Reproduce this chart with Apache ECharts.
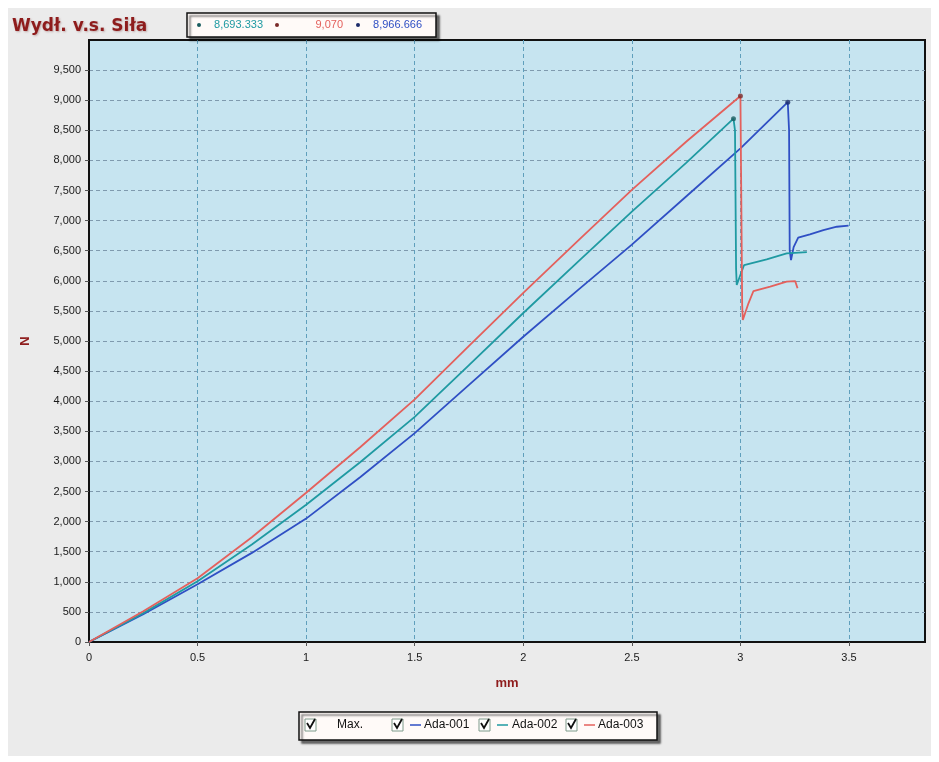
<!DOCTYPE html>
<html>
<head>
<meta charset="utf-8">
<title>Wydł. v.s. Siła</title>
<script src="https://cdn.jsdelivr.net/npm/echarts@6/dist/echarts.min.js"></script>
<style>
  html, body { margin: 0; padding: 0; background: #ffffff; }
  #chart { width: 939px; height: 762px; }
</style>
</head>
<body>
<div id="chart"></div>
<script>
// series data: [mm, N]
var ada001 = [
  [0, 0], [0.25, 460], [0.5, 960], [0.75, 1480], [1, 2050], [1.25, 2740],
  [1.5, 3470], [1.75, 4270], [2, 5070], [2.25, 5840], [2.5, 6600], [2.75, 7400],
  [3, 8200], [3.218, 8966.666], [3.224, 8500], [3.227, 6500], [3.233, 6345],
  [3.245, 6560], [3.266, 6716], [3.32, 6772], [3.382, 6843], [3.444, 6898], [3.498, 6915]
];
var ada002 = [
  [0, 0], [0.25, 480], [0.5, 1010], [0.75, 1620], [1, 2280], [1.25, 2990],
  [1.5, 3740], [1.75, 4600], [2, 5465], [2.25, 6310], [2.5, 7150], [2.75, 7960],
  [2.968, 8693.333], [2.975, 8500], [2.98, 6200], [2.983, 5930], [2.995, 6050],
  [3.017, 6262], [3.121, 6356], [3.213, 6456], [3.306, 6478]
];
var ada003 = [
  [0, 0], [0.25, 510], [0.5, 1060], [0.75, 1740], [1, 2480], [1.25, 3240],
  [1.5, 4030], [1.75, 4920], [2, 5800], [2.25, 6660], [2.5, 7510], [2.75, 8310],
  [3, 9070], [3.008, 5600], [3.011, 5348], [3.037, 5626], [3.06, 5830],
  [3.137, 5902], [3.213, 5985], [3.252, 5996], [3.263, 5875]
];

var seriesNames = ['Ada-001', 'Ada-002', 'Ada-003'];
var seriesColors = ['#2f4fc4', '#1f9aa2', '#e4605c'];
var peakColors = ['#1c2b6a', '#1a5d60', '#7a2a2a'];
var peakX = [3.218, 2.968, 3.0];
var peakValues = [8966.666, 8693.333, 9070];

var xTicks = { min: 0, max: 3.85, interval: 0.5 };
var yTicks = { min: 0, max: 10000, interval: 500 };

function fmt(v) {
  return v.toLocaleString('en-US', { maximumFractionDigits: 3 });
}

var myChart = echarts.init(document.getElementById('chart'));

var labelFont = 'Arial, "Liberation Sans", sans-serif';
var darkRed = '#8e1c1c';

// top box: peaks in the order teal, red, blue
var topOrder = [1, 2, 0];
var topX = [199, 277, 358];
var topValRight = [263, 343, 422];
var topGraphics = [];
topOrder.forEach(function(idx, k) {
  topGraphics.push({
    type: 'circle', shape: { cx: topX[k], cy: 25, r: 2 },
    style: { fill: peakColors[idx] }, z: 12
  });
  topGraphics.push({
    type: 'text', x: topValRight[k], y: 25,
    style: {
      text: fmt(peakValues[idx]), fill: seriesColors[idx], font: '11px ' + labelFont,
      align: 'right', verticalAlign: 'middle'
    }, z: 12
  });
});

// bottom legend box
var legendItems = [
  { box: 305, dash: null, text: 'Max.', tx: 337 },
  { box: 392, dash: 410, text: seriesNames[0], tx: 424, color: seriesColors[0] },
  { box: 479, dash: 497, text: seriesNames[1], tx: 512, color: seriesColors[1] },
  { box: 566, dash: 584, text: seriesNames[2], tx: 598, color: seriesColors[2] }
];
var legendGraphics = [];
legendItems.forEach(function(it) {
  legendGraphics.push({
    type: 'rect', shape: { x: it.box, y: 719, width: 11, height: 12 },
    style: { fill: '#ffffff', stroke: '#7f9a8a', lineWidth: 1 }, z: 12
  });
  legendGraphics.push({
    type: 'polyline', shape: { points: [[it.box + 2, 723], [it.box + 5, 728], [it.box + 10, 719]] },
    style: { stroke: '#111111', lineWidth: 1.8, fill: null }, z: 13
  });
  if (it.dash !== null) {
    legendGraphics.push({
      type: 'line', shape: { x1: it.dash, y1: 725, x2: it.dash + 11, y2: 725 },
      style: { stroke: it.color, lineWidth: 1.5 }, z: 12
    });
  }
  legendGraphics.push({
    type: 'text', x: it.tx, y: 725,
    style: { text: it.text, fill: '#111111', font: '12px ' + labelFont, verticalAlign: 'middle' },
    z: 12
  });
});

function lineSeries(i, data) {
  return {
    name: seriesNames[i], type: 'line', data: data, showSymbol: false,
    lineStyle: { color: seriesColors[i], width: 1.8 }, itemStyle: { color: seriesColors[i] }
  };
}

var option = {
  backgroundColor: '#ffffff',
  animation: false,
  grid: {
    left: 89, right: 14, top: 40, bottom: 120,
    show: true,
    backgroundColor: '#c6e4f0',
    borderColor: '#111111',
    borderWidth: 2
  },
  graphic: [
    {
      type: 'rect', shape: { x: 8, y: 8, width: 923, height: 748 },
      style: { fill: '#ebebeb' }, z: -10
    },
    {
      type: 'text', x: 12, y: 27,
      style: {
        text: 'Wydł. v.s. Siła', fill: darkRed, font: 'bold 17px "DejaVu Sans", sans-serif',
        verticalAlign: 'middle', textShadowColor: 'rgba(120,60,60,0.35)',
        textShadowBlur: 2, textShadowOffsetX: 1, textShadowOffsetY: 1
      }, z: 12
    },
    {
      type: 'rect', shape: { x: 187, y: 13, width: 249, height: 24 },
      style: {
        fill: '#fffaf8', stroke: '#111111', lineWidth: 1.5,
        shadowColor: 'rgba(0,0,0,0.55)', shadowBlur: 2, shadowOffsetX: 3, shadowOffsetY: 3
      }, z: 11
    },
    {
      type: 'rect', shape: { x: 299, y: 712, width: 358, height: 28 },
      style: {
        fill: '#fffaf8', stroke: '#111111', lineWidth: 1.5,
        shadowColor: 'rgba(0,0,0,0.55)', shadowBlur: 2, shadowOffsetX: 3, shadowOffsetY: 3
      }, z: 11
    }
  ].concat(topGraphics, legendGraphics),
  xAxis: {
    type: 'value',
    min: xTicks.min, max: xTicks.max, interval: xTicks.interval,
    name: 'mm', nameLocation: 'middle', nameGap: 35,
    nameTextStyle: { color: darkRed, fontWeight: 'bold', fontSize: 13, fontFamily: labelFont },
    axisLine: { show: true, onZero: false, lineStyle: { color: '#111111', width: 2 } },
    axisTick: { show: true, length: 4, lineStyle: { color: '#555555' } },
    axisLabel: {
      color: '#1a1a1a', fontSize: 11, fontFamily: labelFont, margin: 10,
      showMaxLabel: false,
      formatter: function(v) { return String(v); }
    },
    splitLine: {
      show: true, showMinLine: false, showMaxLine: false,
      lineStyle: { color: '#5f9fbc', type: [4, 3], width: 1 }
    }
  },
  yAxis: {
    type: 'value',
    min: yTicks.min, max: yTicks.max, interval: yTicks.interval,
    name: 'N', nameLocation: 'middle', nameGap: 57, nameRotate: 90,
    nameTextStyle: { color: darkRed, fontWeight: 'bold', fontSize: 13, fontFamily: labelFont },
    axisLine: { show: true, lineStyle: { color: '#111111', width: 2 } },
    axisTick: { show: true, length: 4, lineStyle: { color: '#555555' } },
    axisLabel: {
      color: '#1a1a1a', fontSize: 11, fontFamily: labelFont, margin: 8,
      showMaxLabel: false,
      formatter: function(v) { return fmt(v); }
    },
    splitLine: {
      show: true, showMinLine: false, showMaxLine: false,
      lineStyle: { color: '#7f9aae', type: [4, 3], width: 1 }
    }
  },
  series: [
    lineSeries(0, ada001),
    lineSeries(1, ada002),
    lineSeries(2, ada003),
    {
      name: 'Max.', type: 'scatter', symbolSize: 5, z: 5,
      data: peakX.map(function(x, i) {
        return { value: [x, peakValues[i]], itemStyle: { color: peakColors[i] } };
      })
    }
  ]
};

myChart.setOption(option);
</script>
</body>
</html>
